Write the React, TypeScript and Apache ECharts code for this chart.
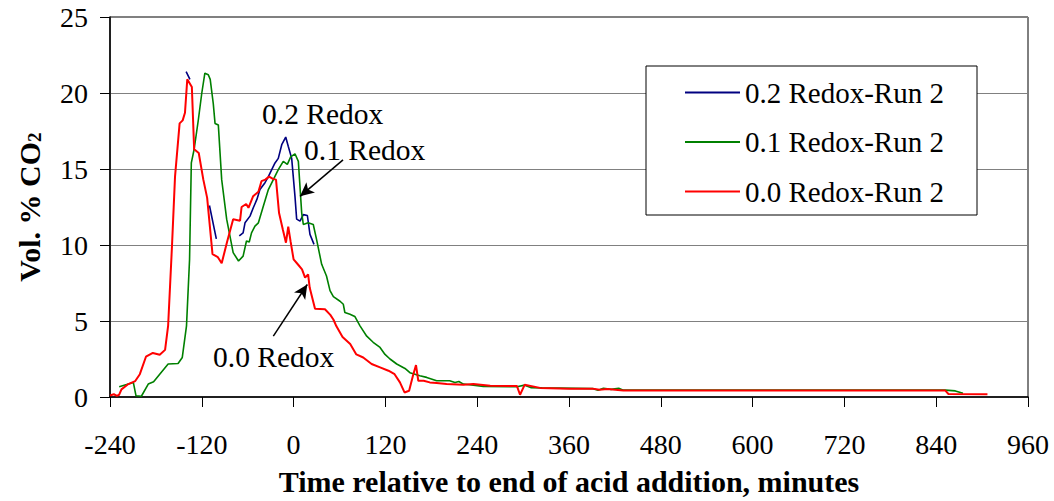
import React, { useEffect, useRef } from "react";
import * as echarts from "echarts";

const seriesNames = ["0.2 Redox-Run 2", "0.1 Redox-Run 2", "0.0 Redox-Run 2"];
const seriesColors = ["#000080", "#008000", "#FF0000"];

const xTicks = { min: -240, max: 960, interval: 120 };
const yTicks = { min: 0, max: 25, interval: 5 };

// 0.2 Redox (null = gap in record)
const blueX = [-140.5, -135.5, -125, -110, -101, -85, -71, -66, -63.5, -57, -52.7, -48, -44, -37.4, -33, -28.6, -24.3, -20, -15.5, -10.3, -7, -2.5, 1.8, 4, 8.4, 12.7, 18, 21.4, 26.7];
const blueY = [21.4, 20.9, null, 12.6, 10.4, null, 10.6, 10.8, 11.46, 11.9, 12.45, 13.0, 13.65, 14.1, 14.5, 14.96, 15.4, 15.7, 16.6, 17.1, 16.5, 15.7, 13.2, 11.7, 11.57, 12.0, 11.94, 10.7, 10.04];

// 0.1 Redox
const greenX = [-228, -209.5, -206, -199, -190, -183, -175, -164, -151, -145.5, -140, -136, -133.7, -130, -124.5, -120, -116, -111.5, -109, -105, -102.7, -98.4, -94, -87.5, -79, -72, -66, -61.6, -58, -55, -50.5, -46, -39.6, -33, -26.5, -20, -13.5, -8.2, -3.8, 1.8, 6.2, 10.6, 12.7, 19, 25.7, 30, 36.7, 43, 47.6, 52, 60.7, 65, 67, 73.7, 80, 86.8, 95.6, 104, 113, 119.5, 126, 134.8, 145.6, 152, 165, 174, 187, 204, 211, 216, 222, 248, 292, 302, 310, 325, 391, 398, 405, 415, 425, 431, 852, 865, 875];
const greenY = [0.68, 0.96, 0.08, 0.05, 0.85, 1.0, 1.5, 2.17, 2.2, 2.6, 4.68, 9.05, 15.4, 16.3, 18.24, 20.0, 21.3, 21.2, 20.9, 19.3, 18.0, 17.9, 14.3, 11.7, 9.5, 8.95, 9.27, 10.26, 10.2, 10.8, 11.24, 11.46, 12.55, 13.65, 14.3, 14.96, 15.5, 15.3, 15.8, 16.0, 15.5, 12.1, 11.35, 11.46, 11.35, 10.37, 8.73, 7.96, 7.0, 6.6, 6.3, 6.1, 5.56, 5.45, 5.3, 4.68, 4.0, 3.6, 3.26, 2.8, 2.5, 2.17, 1.88, 1.6, 1.4, 1.29, 1.07, 1.07, 0.96, 1.02, 0.85, 0.7, 0.68, 0.78, 0.62, 0.6, 0.55, 0.45, 0.58, 0.5, 0.58, 0.45, 0.45, 0.4, 0.25];

// 0.0 Redox
const redX = [-240, -235, -231, -228, -225, -216, -207, -201, -193, -184, -175, -168, -164, -159, -155, -149, -145, -142, -139, -133, -130, -124, -118, -113, -106, -99, -94, -87, -79, -70, -68, -62, -59, -53, -46, -42, -37, -32, -27, -23, -19, -14, -10, -7, -4, 0, 6, 11, 15, 19, 21, 28, 41, 48, 52, 56, 64, 74, 82, 91, 102, 113, 124, 132, 139, 145, 151, 156, 160, 163, 170, 178, 187, 200, 222, 235, 257, 292, 296, 302, 322, 360, 391, 400, 410, 431, 852, 856, 907];
const redY = [0.1, 0.18, 0.08, 0.15, 0.5, 0.85, 1.05, 1.5, 2.65, 2.9, 2.78, 3.1, 4.7, 9.9, 14.5, 18.0, 18.2, 18.7, 20.9, 20.4, 16.3, 16.05, 14.3, 13.1, 9.4, 9.2, 8.8, 10.2, 11.7, 11.6, 12.5, 12.7, 12.45, 13.2, 13.5, 14.2, 14.3, 14.5, 14.35, 14.3, 12.1, 11.0, 10.15, 11.2, 10.25, 9.05, 8.7, 8.4, 7.85, 8.07, 7.2, 5.8, 5.77, 5.4, 5.1, 4.65, 3.95, 3.48, 2.8, 2.6, 2.17, 1.95, 1.73, 1.5, 0.96, 0.3, 0.41, 1.4, 2.1, 1.07, 1.07, 0.96, 0.92, 0.85, 0.8, 0.85, 0.74, 0.72, 0.15, 0.8, 0.6, 0.55, 0.55, 0.47, 0.52, 0.42, 0.42, 0.2, 0.18];

// annotation arrows [tail, head] in data units
const arrows = [
  [[64.6, 15.6], [8.4, 13.2]],
  [[-26.5, 4.0], [17.9, 7.4]],
];
const annotationTexts = ["0.2 Redox", "0.1 Redox", "0.0 Redox"];

const FONT = "'Liberation Serif', 'Times New Roman', serif";

function pairs(xs: number[], ys: (number | null)[]) {
  return xs.map((x, i) => [x, ys[i] === null ? "-" : ys[i]]);
}

export default function App() {
  const ref = useRef<HTMLDivElement>(null);
  useEffect(() => {
    if (!ref.current) return;
    const chart = echarts.init(ref.current, undefined, { renderer: "svg" });
    const seriesData = [pairs(blueX, blueY), pairs(greenX, greenY), pairs(redX, redY)];
    const widths = [1.6, 1.6, 2];
    const annStyle = { fontFamily: FONT, fontSize: 29.5, fill: "#000", verticalAlign: "middle" };
    chart.setOption({
      animation: false,
      backgroundColor: "#ffffff",
      grid: {
        left: 110,
        right: 26,
        top: 17,
        bottom: 103,
        show: true,
        borderColor: "#000000",
        borderWidth: 1,
        backgroundColor: "transparent",
      },
      xAxis: {
        type: "value",
        min: xTicks.min,
        max: xTicks.max,
        interval: xTicks.interval,
        name: "Time relative to end of acid addition, minutes",
        nameLocation: "middle",
        nameGap: 69,
        nameTextStyle: { fontFamily: FONT, fontSize: 30, fontWeight: "bold", color: "#000" },
        axisLine: { show: true, onZero: false, lineStyle: { color: "#000", width: 1.5 } },
        axisTick: { show: true, inside: false, length: 10, lineStyle: { color: "#000", width: 1 } },
        axisLabel: { fontFamily: FONT, fontSize: 28, color: "#000", margin: 33 },
        splitLine: { show: false },
      },
      yAxis: {
        type: "value",
        min: yTicks.min,
        max: yTicks.max,
        interval: yTicks.interval,
        name: "Vol. % CO{sub|2}",
        nameLocation: "middle",
        nameGap: 66,
        nameRotate: 90,
        nameTextStyle: {
          fontFamily: FONT,
          fontSize: 30,
          fontWeight: "bold",
          color: "#000",
          rich: { sub: { fontFamily: FONT, fontSize: 19, fontWeight: "bold", color: "#000", padding: [10, 0, 0, 0] } },
        },
        axisLine: { show: true, onZero: false, lineStyle: { color: "#000", width: 1.5 } },
        axisTick: { show: true, inside: false, length: 10, lineStyle: { color: "#000", width: 1 } },
        axisLabel: { fontFamily: FONT, fontSize: 28, color: "#000", margin: 22 },
        splitLine: { show: true, lineStyle: { color: "#808080", width: 1.2 } },
      },
      legend: {
        data: seriesNames,
        orient: "vertical",
        left: 685,
        top: 78,
        padding: 0,
        itemGap: 20.5,
        itemWidth: 55,
        itemHeight: 2,
        icon: "rect",
        z: 10,
        textStyle: { fontFamily: FONT, fontSize: 29, lineHeight: 28, color: "#000" },
      },
      graphic: {
        elements: [
          {
            type: "rect",
            z: 5,
            shape: { x: 646, y: 66, width: 331, height: 149 },
            style: { fill: "#ffffff", stroke: "#000000", lineWidth: 1 },
          },
          { type: "text", z: 6, x: 262, y: 114, style: { ...annStyle, text: annotationTexts[0] } },
          { type: "text", z: 6, x: 304, y: 150, style: { ...annStyle, text: annotationTexts[1] } },
          { type: "text", z: 6, x: 213, y: 357, style: { ...annStyle, text: annotationTexts[2] } },
        ],
      },
      series: seriesNames.map((name, i) => ({
        name,
        type: "line",
        data: seriesData[i],
        showSymbol: false,
        symbol: "none",
        connectNulls: false,
        z: 2 + i,
        color: seriesColors[i],
        lineStyle: { color: seriesColors[i], width: widths[i] },
        itemStyle: { color: seriesColors[i] },
        markLine:
          i === 2
            ? {
                silent: true,
                symbol: ["none", "arrow"],
                symbolSize: [10, 14],
                label: { show: false },
                lineStyle: { color: "#000", width: 1.5, type: "solid" },
                data: arrows.map((a) => [{ coord: a[0] }, { coord: a[1] }]),
              }
            : undefined,
      })),
    });
    return () => chart.dispose();
  }, []);
  return (
    <div
      ref={ref}
      style={{ position: "fixed", left: 0, top: 0, width: 1054, height: 501, background: "#fff" }}
    />
  );
}
